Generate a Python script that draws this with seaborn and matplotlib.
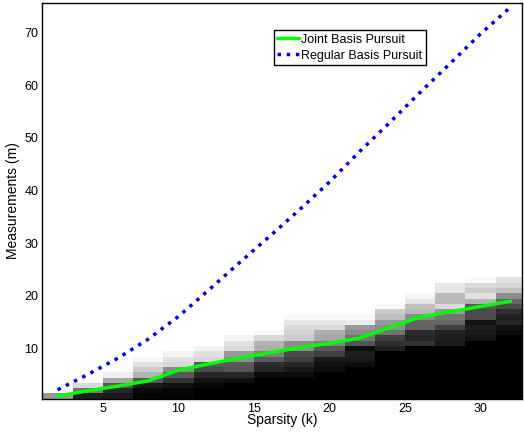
import numpy as np
import matplotlib
matplotlib.use("Agg")
import matplotlib.pyplot as plt
import seaborn as sns

# --- dados ---
sparsity = [2, 4, 6, 8, 10, 12, 14, 16, 18, 20, 22, 24, 26, 28, 30, 32]
joint_bp = [1.0, 2.0, 2.9, 3.9, 5.9, 7.1, 8.2, 9.2, 10.2, 11.0, 12.0, 14.0, 16.0, 17.0, 18.0, 19.0]
regular_bp = [2.2, 5.1, 8.2, 11.8, 16.1, 21.1, 26.2, 31.2, 36.3, 41.6, 47.4, 52.9, 58.6, 64.1, 69.7, 74.8]
n_measurements = 75

# probabilidade de recuperação por coluna, da linha m=1 para cima (acima: 1.0)
col_2 = [0.6]
col_4 = [0.12, 0.45, 0.85]
col_6 = [0.1, 0.15, 0.35, 0.65, 0.93]
col_8 = [0.02, 0.04, 0.1, 0.35, 0.7, 0.8, 0.88, 0.97]
col_10 = [0.02, 0.02, 0.07, 0.2, 0.35, 0.55, 0.85, 0.88, 0.95]
col_12 = [0.0, 0.0, 0.03, 0.07, 0.15, 0.3, 0.35, 0.85, 0.88, 0.95]
col_14 = [0.0, 0.0, 0.0, 0.06, 0.15, 0.33, 0.35, 0.55, 0.6, 0.85, 0.88, 0.95]
col_16 = [0.0, 0.0, 0.0, 0.0, 0.05, 0.15, 0.18, 0.35, 0.5, 0.68, 0.7, 0.85, 0.97]
col_18 = [0.0, 0.0, 0.0, 0.0, 0.05, 0.1, 0.15, 0.25, 0.3, 0.55, 0.55, 0.8, 0.83, 0.85, 0.9, 0.97]
col_20 = [0.0, 0.0, 0.0, 0.0, 0.0, 0.05, 0.07, 0.1, 0.25, 0.35, 0.5, 0.65, 0.68, 0.85, 0.9, 0.97]
col_22 = [0.0, 0.0, 0.0, 0.0, 0.0, 0.0, 0.05, 0.1, 0.12, 0.05, 0.33, 0.45, 0.55, 0.6, 0.93, 0.97]
col_24 = [0.0] * 9 + [0.13, 0.18, 0.25, 0.45, 0.55, 0.6, 0.75, 0.8, 0.97]
col_26 = [0.0] * 10 + [0.2, 0.15, 0.17, 0.38, 0.4, 0.55, 0.72, 0.75, 0.9, 0.96]
col_28 = [0.0] * 10 + [0.1, 0.12, 0.13, 0.25, 0.4, 0.45, 0.6, 0.85, 0.73, 0.73, 0.9, 0.9]
col_30 = [0.0] * 11 + [0.08, 0.1, 0.12, 0.07, 0.3, 0.3, 0.35, 0.7, 0.88, 0.8, 0.85, 0.97]
col_32 = [0.0] * 12 + [0.05, 0.07, 0.15, 0.13, 0.18, 0.3, 0.4, 0.55, 0.75, 0.83, 0.88]
recovery_cols = [col_2, col_4, col_6, col_8, col_10, col_12, col_14, col_16,
                 col_18, col_20, col_22, col_24, col_26, col_28, col_30, col_32]

x_ticks = [5, 10, 15, 20, 25, 30]
y_ticks = [10, 20, 30, 40, 50, 60, 70]

# --- estilo ---
sns.set_style("white")
plt.rcParams['font.family'] = ['Liberation Sans', 'DejaVu Sans']
plt.rcParams['text.color'] = 'black'
plt.rcParams['axes.labelcolor'] = 'black'

# matriz de recuperação (linhas = m, colunas = k)
grid = np.ones((n_measurements, len(sparsity)))
for j, col in enumerate(recovery_cols):
    grid[:len(col), j] = col

x_edges = np.append(np.array(sparsity) - 1, sparsity[-1] + 1)
y_edges = np.arange(0.5, n_measurements + 1)

fig = plt.figure(figsize=(5.24, 4.34), dpi=100)
ax = fig.add_axes([0.0811, 0.0813, 0.915, 0.911])

ax.pcolormesh(x_edges, y_edges, grid, cmap='gray', vmin=0, vmax=1,
              edgecolors='none', antialiased=False)

sns.lineplot(x=sparsity, y=joint_bp, color='#00ff00', linewidth=2.5,
             label='Joint Basis Pursuit', ax=ax)
sns.lineplot(x=sparsity, y=regular_bp, color='#0000ff', linewidth=2.5,
             linestyle=':', label='Regular Basis Pursuit', ax=ax)

ax.set_xlim(1, 32.75)
ax.set_ylim(0.5, 75.5)
ax.set_xticks(x_ticks)
ax.set_yticks(y_ticks)
ax.tick_params(direction='in', top=True, right=True, length=4, width=0.8,
               labelsize=9, colors='black', pad=3)
for spine in ax.spines.values():
    spine.set_color('black')
    spine.set_linewidth(1.0)

ax.set_xlabel('Sparsity (k)', fontsize=10, labelpad=-1)
ax.set_ylabel('Measurements (m)', fontsize=10, labelpad=3)

leg = ax.legend(loc='upper left', bbox_to_anchor=(0.482, 0.9325), borderaxespad=0,
                fontsize=9, frameon=True, fancybox=False, framealpha=1,
                edgecolor='black', borderpad=0.3, labelspacing=0.3,
                handlelength=1.75, handletextpad=0.15)
leg.get_frame().set_linewidth(1.0)

fig.savefig('out.png', dpi=100)
